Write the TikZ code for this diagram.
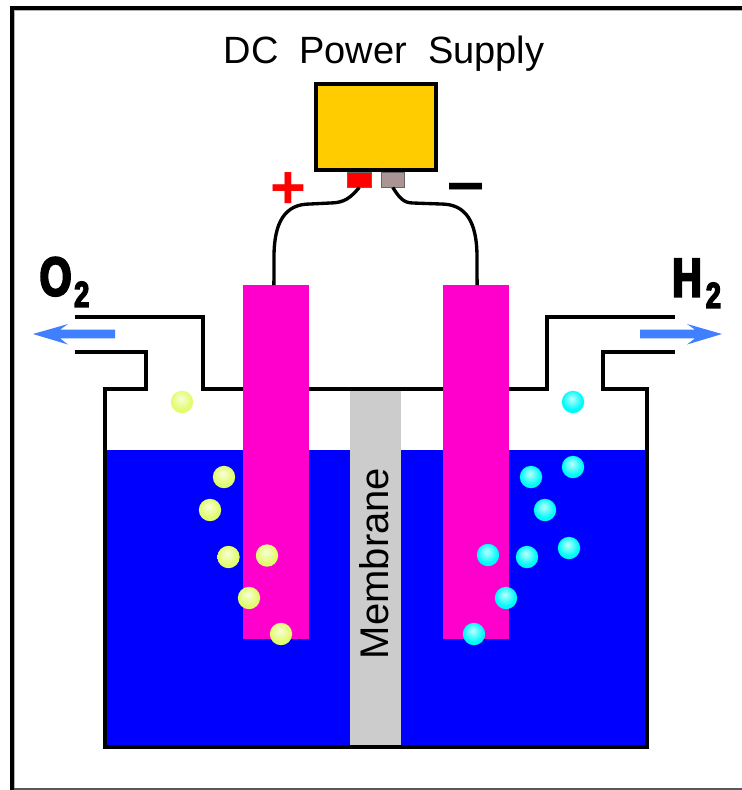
\documentclass[tikz,border=0pt]{standalone}
\usepackage{fontspec}
\setmainfont{Liberation Sans}
\newfontfamily\impact[FakeStretch=0.75,FakeBold=4]{Liberation Sans Bold}
\usetikzlibrary{calc}
\definecolor{watercol}{RGB}{0,0,255}
\definecolor{magentacol}{RGB}{255,0,204}
\definecolor{membcol}{RGB}{204,204,204}
\definecolor{psucol}{RGB}{255,204,0}
\definecolor{graycol}{RGB}{170,148,148}
\definecolor{arrowcol}{RGB}{64,128,255}
\definecolor{yellowball}{RGB}{226,252,110}
\definecolor{cyanball}{RGB}{0,250,250}
\pgfdeclareradialshading{yball}{\pgfpoint{-3bp}{8bp}}{color(0bp)=(yellowball!25!white); color(22bp)=(yellowball); color(50bp)=(yellowball)}
\pgfdeclareradialshading{cball}{\pgfpoint{-3bp}{8bp}}{color(0bp)=(cyanball!25!white); color(22bp)=(cyanball); color(50bp)=(cyanball)}
\tikzset{
  x=0.75pt,y=-0.75pt,
  block/.style={inner sep=0pt,outer sep=0pt,anchor=north west},
  wall/.style={line width=2.9pt,draw=black,miter limit=10},
  wire/.style={line width=2.5pt,draw=black},
  gasarrow/.style={fill=arrowcol,draw=none},
  lab/.style={inner sep=0pt},
  gas/.style={inner sep=0pt,anchor=base west},
  ybub/.style={circle,inner sep=0pt,minimum size=16.8pt,shading=yball},
  cbub/.style={circle,inner sep=0pt,minimum size=16.8pt,shading=cball},
}
\begin{document}
\begin{tikzpicture}
\useasboundingbox (0,0) rectangle (742,790);
\fill[white] (0,0) rectangle (742,790);
% frame
\draw[line width=0.8pt,draw=black!30] (14.5,790) -- (14.5,10.5) -- (742,10.5);
\draw[line width=3pt] (12,790) -- (12,8) -- (742,8);
\draw[line width=1.2pt,draw=black!65] (14,789) -- (742,789);
% water
\fill[watercol] (105,450) rectangle (647,746.5);
% membrane
\node[block,fill=membcol,minimum width=38.25pt,minimum height=267pt] (memb) at (349.8,390) {};
\node[lab,rotate=90,font=\fontsize{30pt}{31pt}\selectfont] (membtxt) at (374,563.5) {Membrane};
% tank outline
\draw[wall] (74.7,352) -- (146,352) -- (146,388.7) -- (105,388.7) -- (105,746.7) -- (647,746.7) -- (647,388.7) -- (603,388.7) -- (603,352) -- (675,352);
\draw[wall] (74.7,317) -- (203,317) -- (203,388.7) -- (547,388.7) -- (547,317) -- (675,317);
% electrodes
\node[block,fill=magentacol,minimum width=49.8pt,minimum height=265.5pt] (elecL) at (242.7,285) {};
\node[block,fill=magentacol,minimum width=49.5pt,minimum height=265.5pt] (elecR) at (443.3,285) {};
% power supply
\node[block,fill=psucol,draw=black,line width=3pt,minimum width=90pt,minimum height=64.5pt] (psu) at (316,84) {};
\node[lab,font=\fontsize{28.5pt}{30pt}\selectfont] (title) at (384,54) {DC\hspace{15.7pt}Power\hspace{15.7pt}Supply};
\node[block,fill=red,draw=black!60,line width=0.6pt,minimum width=17.6pt,minimum height=11.2pt] (term1) at (347.6,172.5) {};
\node[block,fill=graycol,draw=black!60,line width=0.6pt,minimum width=17.6pt,minimum height=11.2pt] (term2) at (381,172.5) {};
\node[inner sep=0pt,text=red,font=\bfseries\fontsize{46pt}{46pt}\selectfont] (plus) at (288,191) {+};
\node[inner sep=0pt,text=black,font=\bfseries\fontsize{50pt}{50pt}\selectfont] (minus) at (466,194) {–};
% wires
\draw[wire] ([xshift=-1.5pt]elecL.north) -- (274,257) .. controls (274,222) and (285,204) .. (310,204) -- (330,203) .. controls (345,203) and (351,197) .. (term1.south);
\draw[wire] ([xshift=0.6pt]elecR.north) -- (477,257) .. controls (477,222) and (466,204) .. (441,204) -- (413,203) .. controls (403,203) and (399,197) .. (term2.south);
% gas arrows
\coordinate (tipL) at (33,334);
\coordinate (tipR) at (722,334);
\fill[gasarrow] (tipL) -- (68,324) -- (60,329.7) -- (115,329.7) -- (115,338.3) -- (60,338.3) -- (68,344.5) -- cycle;
\fill[gasarrow] (tipR) -- (687,324) -- (695,329.7) -- (640,329.7) -- (640,338.3) -- (695,338.3) -- (687,344.5) -- cycle;
% gas labels
\node[gas,font=\impact\fontsize{41pt}{41pt}\selectfont] (o2) at (39.4,295.5) {O\kern2pt\raisebox{-8.5pt}{\fontsize{27pt}{27pt}\selectfont 2}};
\node[gas,font=\impact\fontsize{41pt}{41pt}\selectfont] (h2) at (672,296.5) {H\kern3pt\raisebox{-8.5pt}{\fontsize{27pt}{27pt}\selectfont 2}};
% bubbles
\foreach \p [count=\i] in {(182,402),(224,477),(210,510),(228.5,557),(267,555.5),(249,598),(281,634)}
  \node[ybub] (y\i) at \p {};
\foreach \p [count=\i] in {(573,402),(531,477),(573,467),(545,510),(488,555),(527,557),(569,548),(506,598),(474,634)}
  \node[cbub] (c\i) at \p {};
\end{tikzpicture}
\end{document}
